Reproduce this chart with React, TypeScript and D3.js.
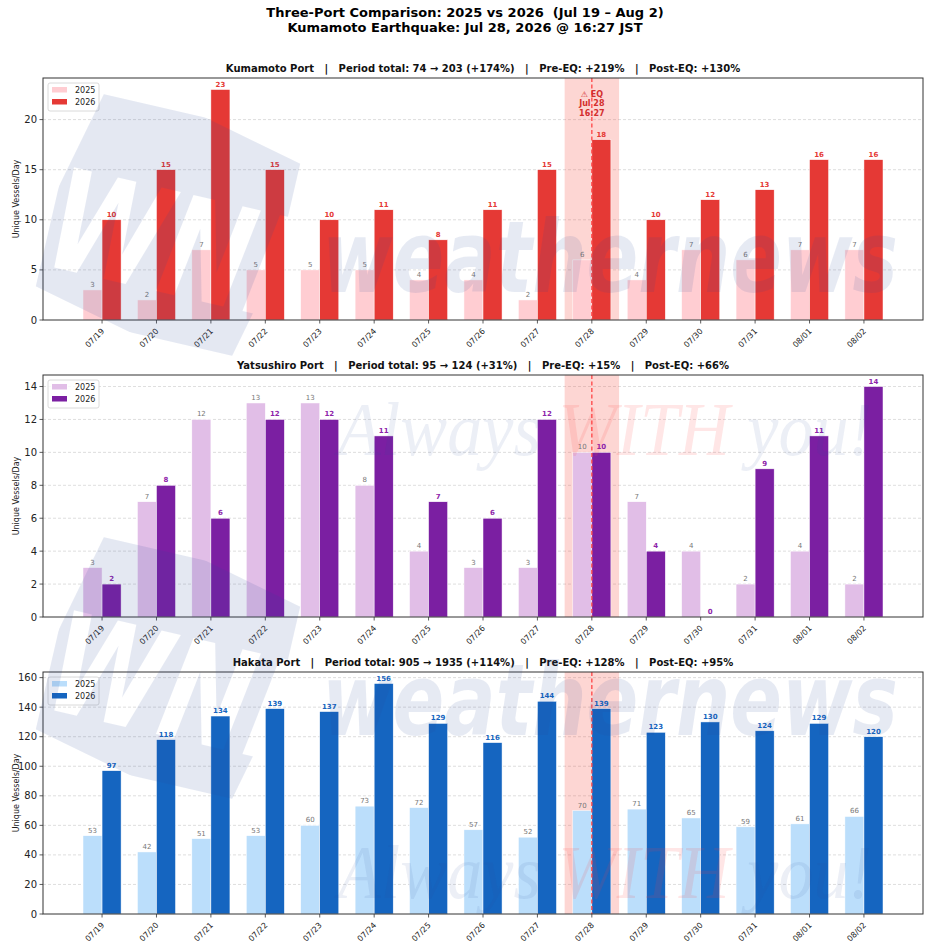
import React from 'react';
import * as d3 from 'd3';

const dates = ['07/19', '07/20', '07/21', '07/22', '07/23', '07/24', '07/25', '07/26', '07/27', '07/28', '07/29', '07/30', '07/31', '08/01', '08/02'];

const kumamoto2025 = [3, 2, 7, 5, 5, 5, 4, 4, 2, 6, 4, 7, 6, 7, 7];
const kumamoto2026 = [10, 15, 23, 15, 10, 11, 8, 11, 15, 18, 10, 12, 13, 16, 16];
const yatsushiro2025 = [3, 7, 12, 13, 13, 8, 4, 3, 3, 10, 7, 4, 2, 4, 2];
const yatsushiro2026 = [2, 8, 6, 12, 12, 11, 7, 6, 12, 10, 4, 0, 9, 11, 14];
const hakata2025 = [53, 42, 51, 53, 60, 73, 72, 57, 52, 70, 71, 65, 59, 61, 66];
const hakata2026 = [97, 118, 134, 139, 137, 156, 129, 116, 144, 139, 123, 130, 124, 129, 120];

const portTitles = [
  'Kumamoto Port   |   Period total: 74 \u2192 203 (+174%)   |   Pre-EQ: +219%   |   Post-EQ: +130%',
  'Yatsushiro Port   |   Period total: 95 \u2192 124 (+31%)   |   Pre-EQ: +15%   |   Post-EQ: +66%',
  'Hakata Port   |   Period total: 905 \u2192 1935 (+114%)   |   Pre-EQ: +128%   |   Post-EQ: +95%',
];
const yTicks = [
  [0, 5, 10, 15, 20],
  [0, 2, 4, 6, 8, 10, 12, 14],
  [0, 20, 40, 60, 80, 100, 120, 140, 160],
];
const years = ['2025', '2026'];
const eqIndex = 9;
const eqLines = ['\u26A0 EQ', 'Jul 28', '16:27'];

const ports = [
  { v25: kumamoto2025, v26: kumamoto2026, c25: '#ffcdd2', c26: '#e53935', lab: '#e53935' },
  { v25: yatsushiro2025, v26: yatsushiro2026, c25: '#e1bee7', c26: '#7b1fa2', lab: '#8e24aa' },
  { v25: hakata2025, v26: hakata2026, c25: '#bbdefb', c26: '#1565c0', lab: '#1565c0' },
];

const W = 930;
const H = 943;
const left = 43;
const right = 923;
const panelTops = [78, 375, 672];
const panelH = 242;
const barW = 0.35;
const font = 'DejaVu Sans, sans-serif';
const pre = { whiteSpace: 'pre' as const };

function Panel({ idx }: { idx: number }) {
  const p = ports[idx];
  const top = panelTops[idx];
  const bottom = top + panelH;
  const n = dates.length;
  const pad = (n - 1 + 2 * barW) * 0.05;
  const x = d3.scaleLinear().domain([-barW - pad, n - 1 + barW + pad]).range([left, right]);
  const ymax = d3.max([...p.v25, ...p.v26]) as number;
  const y = d3.scaleLinear().domain([0, ymax * 1.05]).range([bottom, top]);
  const bw = x(barW) - x(0);

  return (
    <g>
      {/* grid */}
      {yTicks[idx].slice(1).map(t => (
        <line key={'g' + t} x1={left} x2={right} y1={y(t)} y2={y(t)} stroke="#c8c8c8" strokeWidth={0.6} strokeDasharray="3,2" />
      ))}
      {/* EQ band */}
      <rect x={x(eqIndex - 0.5)} y={top} width={x(eqIndex + 0.5) - x(eqIndex - 0.5)} height={panelH} fill="#f44336" opacity={0.22} />
      {/* bars */}
      {dates.map((d, i) => (
        <g key={d}>
          <rect x={x(i - barW)} y={y(p.v25[i])} width={bw} height={bottom - y(p.v25[i])} fill={p.c25} stroke="#fff" strokeWidth={0.5} />
          <rect x={x(i)} y={y(p.v26[i])} width={bw} height={bottom - y(p.v26[i])} fill={p.c26} stroke="#fff" strokeWidth={0.5} />
          <text x={x(i - barW / 2)} y={y(p.v25[i]) - 3} fontSize={7} fill="#777" textAnchor="middle" fontFamily={font}>{p.v25[i]}</text>
          <text x={x(i + barW / 2)} y={y(p.v26[i]) - 3} fontSize={7} fill={p.lab} fontWeight="bold" textAnchor="middle" fontFamily={font}>{p.v26[i]}</text>
        </g>
      ))}
      {/* EQ line */}
      <line x1={x(eqIndex)} x2={x(eqIndex)} y1={top} y2={bottom} stroke="#ff4444" strokeWidth={1.3} strokeDasharray="4,2.5" />
      {idx === 0 && eqLines.map((l, k) => (
        <text key={l} x={x(eqIndex)} y={top + 18.5 + k * 9.6} fontSize={8} fontWeight="bold" fill="#d32f2f" textAnchor="middle" fontFamily={font}>{l}</text>
      ))}
      {/* axes frame */}
      <rect x={left} y={top} width={right - left} height={panelH} fill="none" stroke="#333" strokeWidth={1} />
      {/* y ticks */}
      {yTicks[idx].map(t => (
        <g key={'y' + t}>
          <line x1={left - 3.5} x2={left} y1={y(t)} y2={y(t)} stroke="#333" strokeWidth={0.8} />
          <text x={left - 6} y={y(t)} dy="0.35em" fontSize={10} textAnchor="end" fill="#222" fontFamily={font}>{t}</text>
        </g>
      ))}
      {/* x ticks */}
      {dates.map((d, i) => (
        <g key={'x' + d}>
          <line x1={x(i)} x2={x(i)} y1={bottom} y2={bottom + 3.5} stroke="#333" strokeWidth={0.8} />
          <text transform={`translate(${x(i) + 1},${bottom + 10}) rotate(-45)`} fontSize={8} textAnchor="end" dy="0.3em" fill="#222" fontFamily={font}>{d}</text>
        </g>
      ))}
      <text transform={`translate(16,${(top + bottom) / 2}) rotate(-90)`} fontSize={8} textAnchor="middle" dy="0.35em" fill="#222" fontFamily={font}>Unique Vessels/Day</text>
      <text x={(left + right) / 2} y={top - 6} fontSize={10} fontWeight="bold" textAnchor="middle" fill="#111" fontFamily={font} style={pre}>{portTitles[idx]}</text>
      {/* legend */}
      <rect x={48} y={top + 5} width={51} height={28} rx={2} fill="#fff" fillOpacity={0.85} stroke="#d0d0d0" strokeWidth={0.8} />
      {years.map((yr, k) => (
        <g key={yr}>
          <rect x={52} y={top + 9 + k * 12} width={15} height={5.5} fill={k === 0 ? p.c25 : p.c26} />
          <text x={75} y={top + 11.8 + k * 12} dy="0.35em" fontSize={8} fill="#222" fontFamily={font}>{yr}</text>
        </g>
      ))}
    </g>
  );
}

function WatermarkTile({ dy }: { dy: number }) {
  const maskId = 'wni' + dy;
  return (
    <g transform={`translate(0,${dy})`} pointerEvents="none">
      <mask id={maskId} maskUnits="userSpaceOnUse" x={-100} y={-100} width={W + 200} height={H + 200}>
        <rect x={53} y={112} width={230} height={226} fill="#fff" transform="rotate(13,168,225)" />
        <text x={52} y={292} fontSize={140} fontWeight="bold" fontStyle="italic" textLength={245} lengthAdjust="spacingAndGlyphs" fill="#000" fontFamily={font}>WNI</text>
      </mask>
      <rect x={53} y={112} width={230} height={226} fill="#2a4a9a" opacity={0.12} transform="rotate(13,168,225)" mask={`url(#${maskId})`} />
      <text x={322} y={292} fontSize={100} fontWeight="bold" fontStyle="italic" textLength={576} lengthAdjust="spacingAndGlyphs" fill="#2a4a9a" opacity={0.11} fontFamily={font}>weathernews</text>
      <text x={338} y={455} fontSize={76} fontStyle="italic" textLength={534} lengthAdjust="spacingAndGlyphs" fontFamily="Liberation Serif, serif" style={pre}>
        <tspan fill="#2a4a9a" fillOpacity={0.09}>Always </tspan>
        <tspan fill="#ff3b3b" fillOpacity={0.13}>WITH</tspan>
        <tspan fill="#2a4a9a" fillOpacity={0.09}> you!</tspan>
      </text>
    </g>
  );
}

export default function App() {
  return (
    <div style={{ position: 'absolute', left: 0, top: 0 }}>
      <svg width={W} height={H} style={{ display: 'block', background: '#fff' }}>
        <text x={W / 2} y={17} fontSize={13} fontWeight="bold" textAnchor="middle" fill="#000" fontFamily={font} style={pre}>Three-Port Comparison: 2025 vs 2026  (Jul 19 – Aug 2)</text>
        <text x={W / 2} y={32} fontSize={13} fontWeight="bold" textAnchor="middle" fill="#000" fontFamily={font}>Kumamoto Earthquake: Jul 28, 2026 @ 16:27 JST</text>
        {ports.map((_, i) => <Panel key={i} idx={i} />)}
        <WatermarkTile dy={0} />
        <WatermarkTile dy={443} />
      </svg>
    </div>
  );
}
